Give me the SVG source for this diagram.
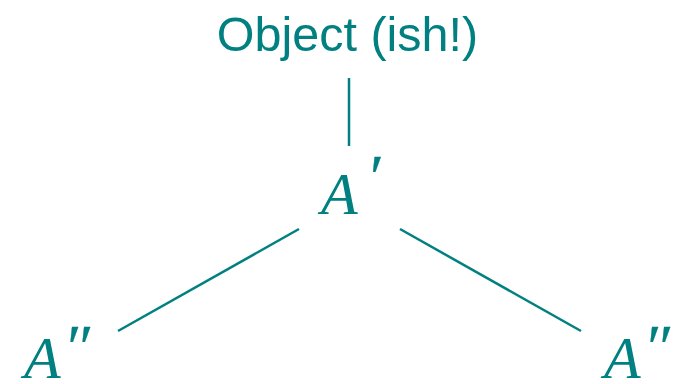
<svg xmlns="http://www.w3.org/2000/svg" width="679" height="384" viewBox="0 0 679 384">
<style>
.lbl{font-family:"Liberation Sans",Arial,sans-serif;font-size:48.5px;fill:#008080}
.m{font-family:"Liberation Serif","Times New Roman",serif;font-style:italic;font-size:60px;fill:#008080}
.p{font-family:"Liberation Serif","Times New Roman",serif;font-style:italic;font-size:64px;fill:#008080;stroke:#008080;stroke-width:0.3}
.c{stroke:#008080;stroke-width:2.5;fill:none}
</style>
<rect width="679" height="384" fill="#ffffff"/>
<g id="connectors">
<line class="c" x1="349" y1="78" x2="349" y2="146"/>
<line class="c" x1="299" y1="229" x2="118" y2="331"/>
<line class="c" x1="400" y1="229" x2="581" y2="331"/>
</g>
<g id="object">
<text class="lbl" x="347.5" y="51" text-anchor="middle">Object (ish!)</text>
</g>
<g id="a1">
<text class="m" x="321" y="214">A</text>
<text class="p" x="366" y="199">′</text>
</g>
<g id="a2left">
<text class="m" x="24" y="378">A</text>
<text class="p" x="63" y="369">″</text>
</g>
<g id="a2right">
<text class="m" x="604" y="378">A</text>
<text class="p" x="643" y="369">″</text>
</g>
</svg>
